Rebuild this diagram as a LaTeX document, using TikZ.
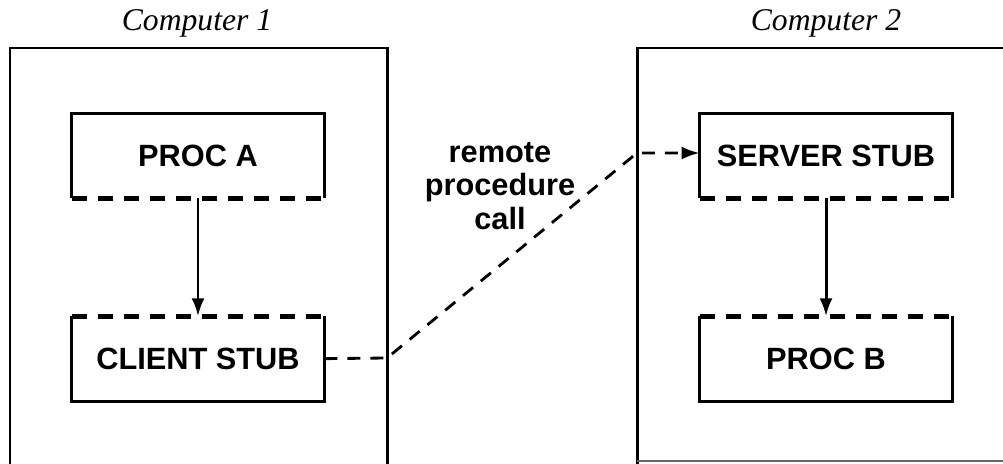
\documentclass[tikz,border=0pt]{standalone}
\usepackage{fontspec}
\setmainfont{Liberation Serif}
\setsansfont{Liberation Sans}
\usetikzlibrary{arrows.meta,positioning}
\tikzset{
  >=Stealth,
  stub/.style={minimum width=5.04cm,minimum height=1.68cm,inner sep=0pt,font=\sffamily\bfseries\fontsize{17.5}{16}\selectfont},
  cframe/.style={line width=1.7pt},
  solidedge/.style={line width=1.7pt},
  dashedge/.style={line width=2.6pt,dash pattern=on 0.3cm off 0.22cm},
  callline/.style={->,line width=1.6pt,dash pattern=on 0.26cm off 0.2cm,>={Latex[length=0.36cm,width=0.26cm]}},
  flow/.style={->,line width=1.7pt,>={Latex[length=0.36cm,width=0.26cm]}},
  complabel/.style={font=\itshape\fontsize{18}{20}\selectfont,anchor=base},
  note/.style={align=center,inner sep=0pt,font=\sffamily\bfseries\fontsize{17.5}{19}\selectfont}
}
\begin{document}
\begin{tikzpicture}[x=0.02cm,y=-0.02cm]
\useasboundingbox (0,0) rectangle (1003,463);
\clip (0,0) rectangle (1003,463);
% the two computers
\draw[cframe] (10,470) -- (10,48) -- (387,48) -- (387,470);
\draw[cframe] (637,470) -- (637,48) -- (1010,48);
\draw[line width=0.8pt,black!60] (637,461) -- (1010,461);
\node[complabel] (comp1) at (197,31) {Computer 1};
\node[complabel] (comp2) at (826,31) {Computer 2};

% procedures and stubs
\node[stub] (procA) at (198,156) {PROC A};
\node[stub,below=2.36cm of procA] (clientStub) {CLIENT STUB};
\node[stub] (serverStub) at (826,156) {SERVER STUB};
\node[stub,below=2.36cm of serverStub] (procB) {PROC B};

\draw[solidedge] (procA.south west) -- (procA.north west) -- (procA.north east) -- (procA.south east);
\draw[dashedge] (procA.south west) -- (procA.south east);
\draw[solidedge] (serverStub.south west) -- (serverStub.north west) -- (serverStub.north east) -- (serverStub.south east);
\draw[dashedge] (serverStub.south west) -- (serverStub.south east);
\draw[solidedge] (clientStub.north west) -- (clientStub.south west) -- (clientStub.south east) -- (clientStub.north east);
\draw[dashedge] (clientStub.north west) -- (clientStub.north east);
\draw[solidedge] (procB.north west) -- (procB.south west) -- (procB.south east) -- (procB.north east);
\draw[dashedge] (procB.north west) -- (procB.north east);

% local calls
\draw[flow] (procA) -- (clientStub);
\draw[flow] (serverStub) -- (procB);

% the remote call
\coordinate (leave) at (387,358);
\coordinate (arrive) at (637,153);
\draw[callline] (clientStub.east) -- (leave) -- (arrive) -- (arrive -| serverStub.west);
\node[note] (rpc) at (500,186) {remote\\procedure\\call};
\end{tikzpicture}
\end{document}
